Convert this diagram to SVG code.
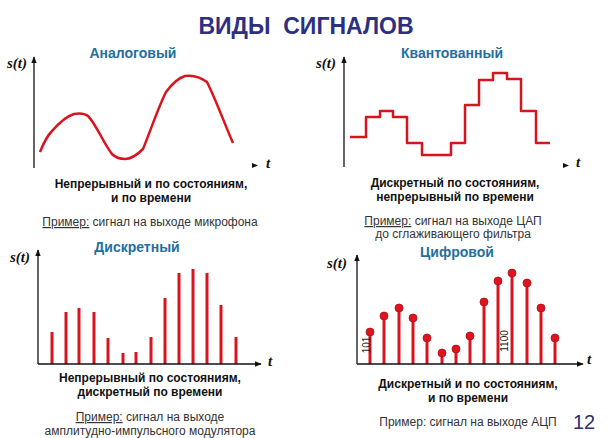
<svg xmlns="http://www.w3.org/2000/svg" width="608" height="438" viewBox="0 0 608 438">
<defs>
<style>
.title{font-family:"Liberation Sans",Arial,sans-serif;font-weight:bold;font-size:23px;fill:#2d2f80;white-space:pre}
.sub{font-family:"Liberation Sans",Arial,sans-serif;font-weight:bold;font-size:14px;fill:#1f6fa0}
.desc{font-family:"Liberation Sans",Arial,sans-serif;font-weight:bold;font-size:12px;fill:#111}
.ex{font-family:"Liberation Sans",Arial,sans-serif;font-size:12px;fill:#333}
.st{font-family:"Liberation Serif","Times New Roman",serif;font-weight:bold;font-style:italic;font-size:15px;fill:#111}
.ax{stroke:#111;stroke-width:1.3;fill:none}
.sig{stroke:#d8141e;stroke-width:2.5;fill:none;stroke-linejoin:round}
.bar{stroke:#d8141e;stroke-width:3}
.dot{fill:#e0141e;stroke:#b00e16;stroke-width:0.8}
.code{font-family:"Liberation Sans",Arial,sans-serif;font-size:10px;fill:#222}
</style>
<marker id="arr" viewBox="0 0 10 10" refX="9" refY="5" markerWidth="7" markerHeight="7" orient="auto-start-reverse" markerUnits="userSpaceOnUse">
<path d="M0,1 L10,5 L0,9 z" fill="#111"/>
</marker>
</defs>
<rect width="608" height="438" fill="#fff"/>
<text class="title" x="306" y="34" text-anchor="middle" xml:space="preserve">ВИДЫ  СИГНАЛОВ</text>

<g id="analog">
<text class="sub" x="133" y="58" text-anchor="middle">Аналоговый</text>
<text class="st" x="7" y="68">s(t)</text>
<line class="ax" x1="34" y1="168" x2="34" y2="57" marker-end="url(#arr)"/>
<path d="M252,168 L258,165.5 L252,163 z" fill="#111"/>
<text class="st" x="266" y="168">t</text>
<path class="sig" d="M40,152 C44,142 47,136 52,131 C60,122 67,116 74,114 C79,113 84,113 88,116 C96,124 104,144 112,154 C116,158 121,159 125,159 C131,159 137,155 143,149 C150,132 158,108 166,92 C172,84 178,78 185,76 C192,75 199,76 207,82 C216,100 225,125 233,143"/>
<text class="desc" x="151" y="188" text-anchor="middle">Непрерывный и по состояниям,</text>
<text class="desc" x="151" y="202" text-anchor="middle">и по времени</text>
<text class="ex" x="150" y="226" text-anchor="middle"><tspan text-decoration="underline">Пример:</tspan> сигнал на выходе микрофона</text>
</g>

<g id="quantized">
<text class="sub" x="452" y="58" text-anchor="middle">Квантованный</text>
<text class="st" x="316" y="68">s(t)</text>
<line class="ax" x1="344" y1="167" x2="344" y2="57" marker-end="url(#arr)"/>
<path d="M563,168 L569,165.5 L563,163 z" fill="#111"/>
<text class="st" x="576" y="167">t</text>
<path class="sig" stroke-linejoin="miter" d="M350,137 H366 V117 H380 V111 H393 V117 H407 V143 H422 V155 H451 V143 H465 V105 H479 V80 H493 V73 H507 V79 H521 V111 H536 V143 H550"/>
<text class="desc" x="455" y="187" text-anchor="middle">Дискретный по состояниям,</text>
<text class="desc" x="455" y="201" text-anchor="middle">непрерывный по времени</text>
<text class="ex" x="453" y="225" text-anchor="middle"><tspan text-decoration="underline">Пример:</tspan> сигнал на выходе ЦАП</text>
<text class="ex" x="453" y="238" text-anchor="middle">до сглаживающего фильтра</text>
</g>

<g id="discrete">
<text class="sub" x="137" y="252" text-anchor="middle">Дискретный</text>
<text class="st" x="10" y="262">s(t)</text>
<g class="bars">
<line class="bar" x1="52" y1="364" x2="52" y2="332"/>
<line class="bar" x1="66" y1="364" x2="66" y2="312"/>
<line class="bar" x1="79" y1="364" x2="79" y2="308"/>
<line class="bar" x1="94" y1="364" x2="94" y2="312"/>
<line class="bar" x1="108" y1="364" x2="108" y2="338"/>
<line class="bar" x1="123" y1="364" x2="123" y2="353"/>
<line class="bar" x1="136" y1="364" x2="136" y2="352"/>
<line class="bar" x1="151" y1="364" x2="151" y2="337"/>
<line class="bar" x1="165" y1="364" x2="165" y2="298"/>
<line class="bar" x1="179" y1="364" x2="179" y2="273"/>
<line class="bar" x1="193" y1="364" x2="193" y2="269"/>
<line class="bar" x1="207" y1="364" x2="207" y2="273"/>
<line class="bar" x1="221" y1="364" x2="221" y2="305"/>
<line class="bar" x1="236" y1="364" x2="236" y2="337"/>
</g>
<line class="ax" x1="38" y1="364" x2="38" y2="250" marker-end="url(#arr)"/>
<line class="ax" x1="38" y1="364" x2="261" y2="364" marker-end="url(#arr)"/>
<text class="st" x="268" y="366">t</text>
<text class="desc" x="150" y="382" text-anchor="middle">Непрерывный по состояниям,</text>
<text class="desc" x="150" y="396" text-anchor="middle">дискретный по времени</text>
<text class="ex" x="150" y="421" text-anchor="middle"><tspan text-decoration="underline">Пример:</tspan> сигнал на выходе</text>
<text class="ex" x="150" y="435" text-anchor="middle">амплитудно-импульсного модулятора</text>
</g>

<g id="digital">
<text class="sub" x="457" y="257" text-anchor="middle">Цифровой</text>
<text class="st" x="327" y="268">s(t)</text>
<g>
<line class="bar" x1="370" y1="364" x2="370" y2="332"/><circle class="dot" cx="370" cy="332" r="4"/>
<line class="bar" x1="384" y1="364" x2="384" y2="316"/><circle class="dot" cx="384" cy="316" r="4"/>
<line class="bar" x1="399" y1="364" x2="399" y2="308"/><circle class="dot" cx="399" cy="308" r="4"/>
<line class="bar" x1="413" y1="364" x2="413" y2="318"/><circle class="dot" cx="413" cy="318" r="4"/>
<line class="bar" x1="427" y1="364" x2="427" y2="338"/><circle class="dot" cx="427" cy="338" r="4"/>
<line class="bar" x1="442" y1="364" x2="442" y2="353"/><circle class="dot" cx="442" cy="353" r="4"/>
<line class="bar" x1="456" y1="364" x2="456" y2="349"/><circle class="dot" cx="456" cy="349" r="4"/>
<line class="bar" x1="470" y1="364" x2="470" y2="336"/><circle class="dot" cx="470" cy="336" r="4"/>
<line class="bar" x1="484" y1="364" x2="484" y2="302"/><circle class="dot" cx="484" cy="302" r="4"/>
<line class="bar" x1="498" y1="364" x2="498" y2="281"/><circle class="dot" cx="498" cy="281" r="4"/>
<line class="bar" x1="512" y1="364" x2="512" y2="273"/><circle class="dot" cx="512" cy="273" r="4"/>
<line class="bar" x1="527" y1="364" x2="527" y2="283"/><circle class="dot" cx="527" cy="283" r="4"/>
<line class="bar" x1="541" y1="364" x2="541" y2="308"/><circle class="dot" cx="541" cy="308" r="4"/>
<line class="bar" x1="555" y1="364" x2="555" y2="338"/><circle class="dot" cx="555" cy="338" r="4"/>
</g>
<text class="code" transform="translate(370,345) rotate(-90)" text-anchor="middle">101</text>
<text class="code" transform="translate(508,341) rotate(-90)" text-anchor="middle">1100</text>
<line class="ax" x1="357" y1="364" x2="357" y2="255" marker-end="url(#arr)"/>
<line class="ax" x1="357" y1="364" x2="583" y2="364" marker-end="url(#arr)"/>
<text class="st" x="587" y="364">t</text>
<text class="desc" x="468" y="388" text-anchor="middle">Дискретный и по состояниям,</text>
<text class="desc" x="468" y="402" text-anchor="middle">и по времени</text>
<text class="ex" x="468" y="426" text-anchor="middle">Пример: сигнал на выходе АЦП</text>
<text x="573" y="429" font-family="Liberation Sans,Arial,sans-serif" font-size="20" fill="#2d2f70">12</text>
</g>
</svg>
